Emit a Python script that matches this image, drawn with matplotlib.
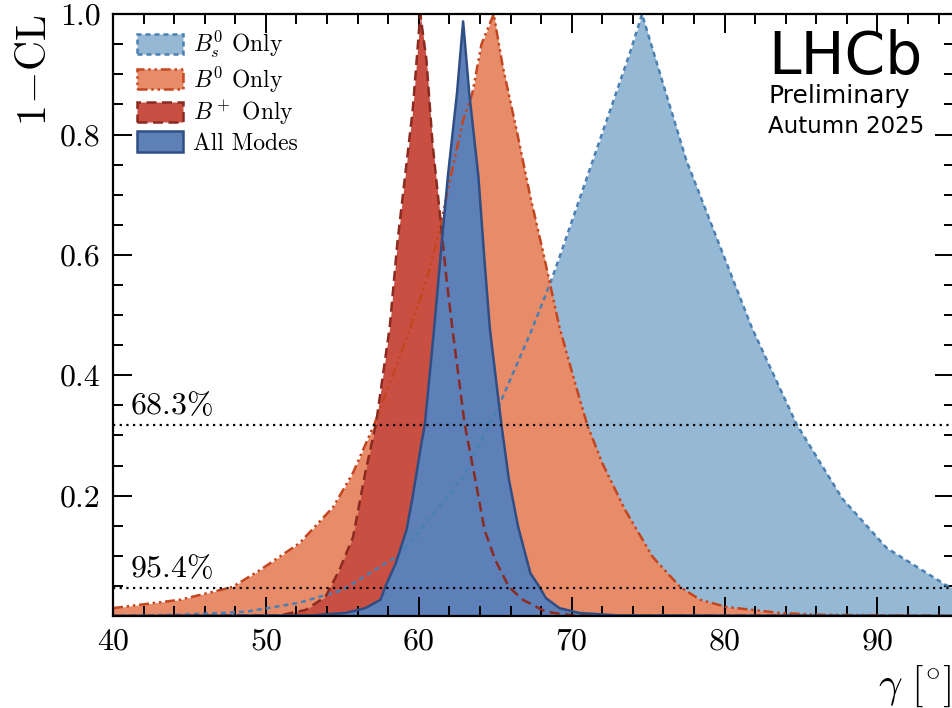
from matplotlib import pyplot as plt
from matplotlib.patches import Patch
from matplotlib.ticker import MultipleLocator

plt.rcParams['font.family'] = ['cmr10']
plt.rcParams['mathtext.fontset'] = 'cm'
plt.rcParams['axes.formatter.use_mathtext'] = True
plt.rcParams['axes.unicode_minus'] = False

# ---------------- data ----------------
bs_x = [40, 44.4, 48.7, 52.2, 55.0, 58.5, 59.6, 62.9, 64.6, 65.2, 67.3, 68.6, 69.2, 73.8, 74.6,
        77.5, 81.8, 84.7, 87.7, 90.6, 94.5, 95]
bs_y = [0.0, 0.002, 0.007, 0.022, 0.043, 0.098, 0.126, 0.231, 0.319, 0.347, 0.47, 0.553, 0.596, 0.935, 1.0,
        0.757, 0.478, 0.319, 0.195, 0.113, 0.051, 0.046]

b0_x = [40, 44.4, 47.8, 49.6, 52.2, 54.4, 55.7, 57.1, 59.4, 60.7, 61.4, 62.0, 62.9, 63.5, 64.1, 64.9,
        65.5, 66.4, 67.3, 68.1, 69.2, 70.3, 71.0, 72.0, 73.5, 75.3, 77.1, 78.4, 80.1, 83.6, 86, 95]
b0_y = [0.013, 0.027, 0.048, 0.076, 0.121, 0.181, 0.238, 0.319, 0.475, 0.575, 0.646, 0.72, 0.824, 0.868, 0.95, 1.0,
        0.912, 0.807, 0.696, 0.608, 0.48, 0.38, 0.319, 0.254, 0.176, 0.098, 0.048, 0.027, 0.015, 0.005, 0.002, 0.0]

bp_x = [40, 50.9, 52.6, 53.9, 54.8, 55.7, 56.5, 57.2, 58.1, 58.6, 59.1, 59.6, 60.1,
        60.5, 60.9, 61.4, 61.8, 62.2, 63.0, 63.7, 64.3, 65.0, 65.9, 66.8, 68.3, 70.0, 95]
bp_y = [0.0, 0.001, 0.01, 0.032, 0.076, 0.131, 0.238, 0.319, 0.48, 0.62, 0.73, 0.84, 1.0,
        0.924, 0.785, 0.663, 0.563, 0.477, 0.319, 0.226, 0.143, 0.093, 0.048, 0.027, 0.007, 0.001, 0.0]

all_x = [40, 53.0, 55.2, 56.5, 57.5, 57.8, 58.5, 59.2, 59.6, 60.1, 60.4, 61.0, 61.5, 61.9, 62.5, 62.9,
         63.3, 63.9, 64.3, 64.65, 65.4, 65.9, 66.5, 67.3, 67.9, 68.3, 69.2, 70.5, 73.0, 95]
all_y = [0.0, 0.001, 0.005, 0.013, 0.027, 0.048, 0.088, 0.143, 0.198, 0.276, 0.319, 0.477, 0.62, 0.73, 0.869, 0.988,
         0.869, 0.73, 0.59, 0.477, 0.319, 0.226, 0.148, 0.071, 0.048, 0.03, 0.013, 0.005, 0.001, 0.0]

cl_levels = [0.317, 0.046]
cl_labels = [r'$68.3\%$', r'$95.4\%$']
xticks = [40, 50, 60, 70, 80, 90]
yticks = [0.2, 0.4, 0.6, 0.8, 1.0]

# 颜色 / 线型
series = [
    (bs_x, bs_y, '#95b8d5', '#4a80b2', (0, (2, 1.6)), r'$B_s^0$ Only'),
    (b0_x, b0_y, '#e88b69', '#c4461f', (0, (4, 1.5, 1, 1.5, 1, 1.5)), r'$B^0$ Only'),
    (bp_x, bp_y, '#c94f43', '#8a2a20', (0, (4, 2.2)), r'$B^+$ Only'),
    (all_x, all_y, '#5e80b8', '#2f4e84', '-', 'All Modes'),
]

fig = plt.figure(figsize=(9.52, 7.08), dpi=100)
ax = fig.add_axes([0.1187, 0.13, 0.8833, 0.85])

for x, y, fc, ec, ls, lab in series:
    ax.fill_between(x, y, 0, color=fc, lw=0)
for x, y, fc, ec, ls, lab in series:
    ax.plot(x, y, color=ec, ls=ls, lw=1.8)

for lev, txt in zip(cl_levels, cl_labels):
    ax.axhline(lev, color='black', ls=(0, (1, 2)), lw=1.6)
    ax.text(41.1, lev + 0.008, txt, fontsize=23, va='bottom', ha='left')

ax.set_xlim(40, 95)
ax.set_ylim(0, 1)
ax.set_xticks(xticks)
ax.set_yticks(yticks)
ax.set_yticklabels(['%.1f' % v for v in yticks])
ax.xaxis.set_minor_locator(MultipleLocator(2))
ax.yaxis.set_minor_locator(MultipleLocator(0.05))
ax.tick_params(which='both', direction='in', top=True, right=True, labelsize=23, width=1.4)
ax.tick_params(which='major', length=14, pad=9)
ax.tick_params(which='minor', length=7)
for s in ax.spines.values():
    s.set_linewidth(1.6)

ax.set_ylabel(r'$1\!-\!\mathrm{CL}$', fontsize=30, loc='top')
ax.yaxis.set_label_coords(-0.07, 1.0)
ax.set_xlabel(r'$\gamma\ [^{\circ}]$', fontsize=30, loc='right')
ax.xaxis.set_label_coords(0.997, -0.08)

handles = [Patch(facecolor=fc, edgecolor=ec, linestyle=ls, linewidth=1.8, label=lab)
           for x, y, fc, ec, ls, lab in series]
ax.legend(handles=handles, loc='upper left', bbox_to_anchor=(0.028, 0.975), frameon=False,
          fontsize=17, handlelength=1.95, handleheight=0.95, labelspacing=0.17,
          handletextpad=0.42, borderpad=0, borderaxespad=0)

ax.text(0.7795, 0.900, 'LHCb', transform=ax.transAxes, fontsize=42, family='DejaVu Sans', va='baseline')
ax.text(0.7790, 0.852, 'Preliminary', transform=ax.transAxes, fontsize=18, family='DejaVu Sans', va='baseline')
ax.text(0.7785, 0.802, 'Autumn 2025', transform=ax.transAxes, fontsize=16.5, family='DejaVu Sans', va='baseline')

fig.savefig('out.png', dpi=100)
